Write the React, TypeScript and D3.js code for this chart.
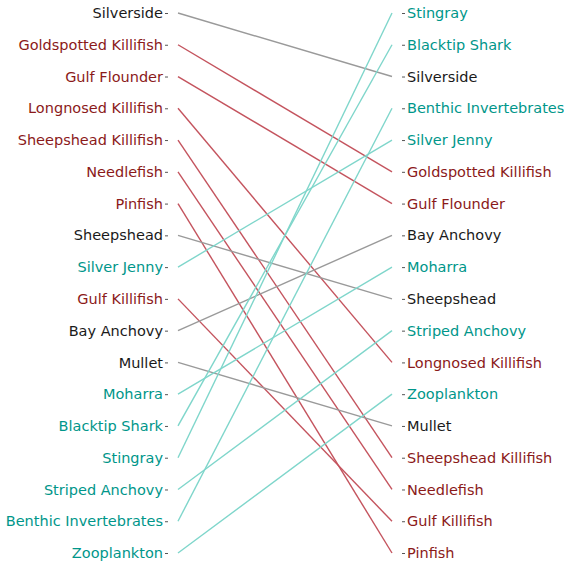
import { useRef, useEffect } from 'react'
import * as d3 from 'd3'

// rank order before (left) and after (right)
const leftOrder: string[] = [
  'Silverside', 'Goldspotted Killifish', 'Gulf Flounder', 'Longnosed Killifish',
  'Sheepshead Killifish', 'Needlefish', 'Pinfish', 'Sheepshead', 'Silver Jenny',
  'Gulf Killifish', 'Bay Anchovy', 'Mullet', 'Moharra', 'Blacktip Shark',
  'Stingray', 'Striped Anchovy', 'Benthic Invertebrates', 'Zooplankton',
]
const rightOrder: string[] = [
  'Stingray', 'Blacktip Shark', 'Silverside', 'Benthic Invertebrates', 'Silver Jenny',
  'Goldspotted Killifish', 'Gulf Flounder', 'Bay Anchovy', 'Moharra', 'Sheepshead',
  'Striped Anchovy', 'Longnosed Killifish', 'Zooplankton', 'Mullet',
  'Sheepshead Killifish', 'Needlefish', 'Gulf Killifish', 'Pinfish',
]
const downGroup: string[] = [
  'Goldspotted Killifish', 'Gulf Flounder', 'Longnosed Killifish', 'Sheepshead Killifish',
  'Needlefish', 'Pinfish', 'Gulf Killifish',
]
const upGroup: string[] = [
  'Silver Jenny', 'Moharra', 'Blacktip Shark', 'Stingray', 'Striped Anchovy',
  'Benthic Invertebrates', 'Zooplankton',
]

const textColor = (name: string) =>
  downGroup.includes(name) ? '#8b1a1a' : upGroup.includes(name) ? '#00968a' : '#1a1a1a'
const lineColor = (name: string) =>
  downGroup.includes(name) ? '#c4545e' : upGroup.includes(name) ? '#7fd6cb' : '#9a9a9a'

export default function App() {
  const svgRef = useRef(null)
  const width = 564
  const height = 564

  useEffect(() => {
    const svg = d3.select(svgRef.current)
    svg.selectAll('*').remove()

    const yL = d3.scalePoint<string>().domain(leftOrder).range([13, 553])
    const yR = d3.scalePoint<string>().domain(rightOrder).range([13, 553])
    const axisLX = 168
    const axisRX = 402
    const lineX0 = 178
    const lineX1 = 392

    // connecting lines
    svg.append('g')
      .selectAll('line')
      .data(leftOrder)
      .enter()
      .append('line')
      .attr('x1', lineX0)
      .attr('x2', lineX1)
      .attr('y1', d => yL(d) as number)
      .attr('y2', d => yR(d) as number)
      .attr('stroke', d => lineColor(d))
      .attr('stroke-width', 1.4)

    const styleAxis = (g: any) => {
      g.select('.domain').remove()
      g.selectAll('.tick line').attr('stroke', '#555').attr('stroke-width', 1)
      g.selectAll('.tick text')
        .attr('fill', (d: string) => textColor(d))
        .style('font-family', '"DejaVu Sans", sans-serif')
        .style('font-size', '14.5px')
    }

    svg.append('g')
      .attr('transform', `translate(${axisLX},0)`)
      .call(d3.axisLeft(yL).tickSize(3).tickPadding(2))
      .call(styleAxis)

    svg.append('g')
      .attr('transform', `translate(${axisRX},0)`)
      .call(d3.axisRight(yR).tickSize(3).tickPadding(2))
      .call(styleAxis)
  }, [])

  return (
    <svg
      ref={svgRef}
      width={width}
      height={height}
      style={{ position: 'absolute', left: 0, top: 0, background: '#fff' }}
    />
  )
}
